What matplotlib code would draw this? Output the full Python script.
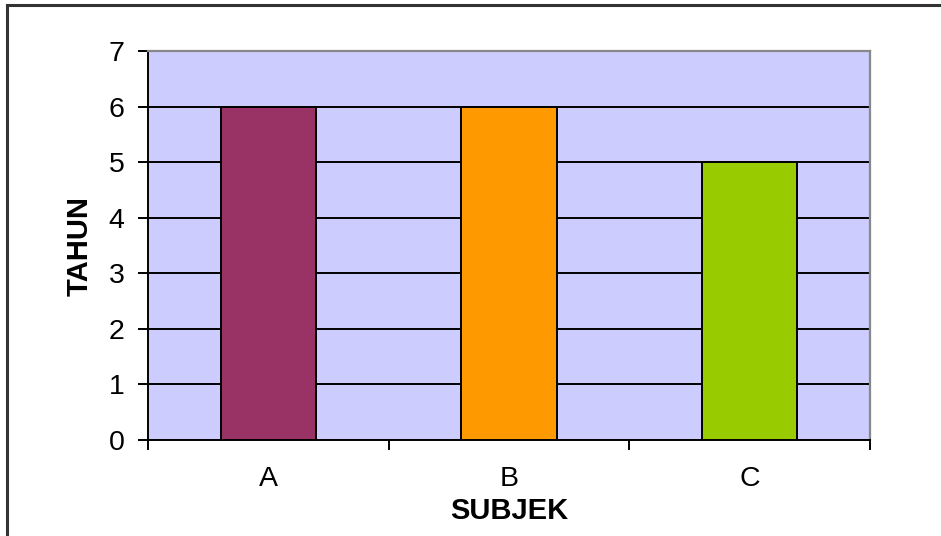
import matplotlib
matplotlib.use("Agg")
import matplotlib.pyplot as plt
from matplotlib.lines import Line2D
import numpy as np

categories = ["A", "B", "C"]
values = [6, 6, 5]
bar_colors = ["#993366", "#FF9900", "#99CC00"]
y_ticks = [0, 1, 2, 3, 4, 5, 6, 7]

plt.rcParams["font.family"] = ["Liberation Sans", "DejaVu Sans"]

fig = plt.figure(figsize=(9.41, 5.36), dpi=100)
W, H = 941, 536

# chart frame (left and top edges visible)
fig.add_artist(Line2D([7 / W, 7 / W], [0, 1 - 5 / H], transform=fig.transFigure,
                      color="#333333", lw=2.2))
fig.add_artist(Line2D([7 / W, 1], [1 - 5 / H, 1 - 5 / H], transform=fig.transFigure,
                      color="#333333", lw=2.2))

ax = fig.add_axes([148 / W, 96 / H, 722 / W, 389 / H])
ax.set_facecolor("#CCCCFF")

x = np.arange(len(categories))
ax.set_axisbelow(True)
ax.yaxis.grid(True, color="black", lw=1.4)
ax.bar(x, values, width=0.395, color=bar_colors, edgecolor="black", linewidth=1.4, zorder=3)

ax.set_xlim(-0.5, len(categories) - 0.5)
ax.set_ylim(0, 7)
ax.set_yticks(y_ticks)
ax.set_xticks(x)
ax.set_xticklabels(categories)
ax.set_xticks(np.arange(len(categories) + 1) - 0.5, minor=True)

ax.tick_params(axis="x", which="major", length=0, pad=19, labelsize=20.5)
ax.tick_params(axis="x", which="minor", length=7, width=1.4, direction="out", color="black")
ax.tick_params(axis="y", which="major", length=7, width=1.4, direction="out", pad=10, labelsize=20.5)

for s in ["top", "right"]:
    ax.spines[s].set_color("#888888")
    ax.spines[s].set_linewidth(1.6)
for s in ["left", "bottom"]:
    ax.spines[s].set_color("black")
    ax.spines[s].set_linewidth(1.4)

ax.set_xlabel("SUBJEK", fontsize=21, fontweight="bold", labelpad=3)
ax.set_ylabel("TAHUN", fontsize=21, fontweight="bold", labelpad=11)

fig.savefig("out.png", dpi=100)
